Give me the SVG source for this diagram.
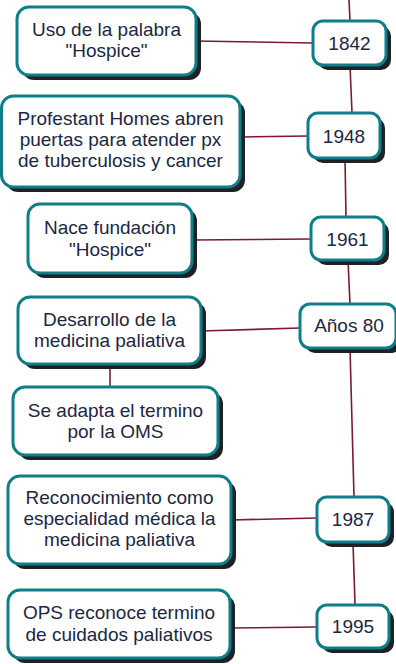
<svg xmlns="http://www.w3.org/2000/svg" width="396" height="664" viewBox="0 0 396 664">
<style>
.sh{fill:#1e2226}
.bx{fill:#ffffff;stroke:#0e7e88;stroke-width:3}
.t{font-family:"Liberation Sans",Arial,sans-serif;font-size:19px;fill:#1c2742;text-anchor:middle}
.c{stroke:#7d1a30;stroke-width:1.6;fill:none}
</style>
<rect width="396" height="664" fill="#ffffff"/>
<g id="connectors">
<line class="c" x1="349" y1="0" x2="350" y2="21"/>
<line class="c" x1="350" y1="65" x2="352" y2="113"/>
<line class="c" x1="196" y1="41" x2="313" y2="43"/>
<line class="c" x1="240" y1="137" x2="308" y2="136"/>
<line class="c" x1="345" y1="158" x2="346" y2="217"/>
<line class="c" x1="192" y1="240" x2="311" y2="239"/>
<line class="c" x1="348" y1="260" x2="350" y2="304"/>
<line class="c" x1="201" y1="331" x2="300" y2="328"/>
<line class="c" x1="110" y1="364" x2="110" y2="387"/>
<line class="c" x1="350" y1="348" x2="354" y2="497"/>
<line class="c" x1="231" y1="520" x2="317" y2="518"/>
<line class="c" x1="353" y1="542" x2="355" y2="605"/>
<line class="c" x1="230" y1="628" x2="317" y2="627"/>
</g>
<g id="n1">
<rect class="sh" x="22" y="12" width="179" height="68" rx="12"/>
<rect class="bx" x="17" y="7" width="179" height="68" rx="12"/>
<text class="t" x="106.5" y="36">Uso de la palabra</text>
<text class="t" x="106.5" y="57">"Hospice"</text>
</g>
<g id="y1842">
<rect class="sh" x="318" y="26" width="73" height="44" rx="10"/>
<rect class="bx" x="313" y="21" width="73" height="44" rx="10"/>
<text class="t" x="349.5" y="50">1842</text>
</g>
<g id="n2">
<rect class="sh" x="6" y="101" width="239" height="91" rx="12"/>
<rect class="bx" x="1.5" y="96" width="238.5" height="91" rx="12"/>
<text class="t" x="120.5" y="125">Profestant Homes abren</text>
<text class="t" x="120.5" y="146">puertas para atender px</text>
<text class="t" x="120.5" y="167">de tuberculosis y cancer</text>
</g>
<g id="y1948">
<rect class="sh" x="313" y="118" width="72" height="45" rx="10"/>
<rect class="bx" x="308" y="113" width="72" height="45" rx="10"/>
<text class="t" x="344" y="143">1948</text>
</g>
<g id="n3">
<rect class="sh" x="33" y="209" width="164" height="69" rx="12"/>
<rect class="bx" x="28" y="204" width="164" height="69" rx="12"/>
<text class="t" x="110" y="234">Nace fundación</text>
<text class="t" x="110" y="256">"Hospice"</text>
</g>
<g id="y1961">
<rect class="sh" x="316" y="222" width="73" height="43" rx="10"/>
<rect class="bx" x="311" y="217" width="73" height="43" rx="10"/>
<text class="t" x="347.5" y="246">1961</text>
</g>
<g id="n4">
<rect class="sh" x="23" y="302" width="183" height="67" rx="12"/>
<rect class="bx" x="18" y="297" width="183" height="67" rx="12"/>
<text class="t" x="109.5" y="326">Desarrollo de la</text>
<text class="t" x="109.5" y="347">medicina paliativa</text>
</g>
<g id="y80">
<rect class="sh" x="305" y="309" width="96" height="44" rx="10"/>
<rect class="bx" x="300" y="304" width="96" height="44" rx="10"/>
<text class="t" x="349" y="332">Años 80</text>
</g>
<g id="n5">
<rect class="sh" x="18" y="392" width="205" height="68" rx="12"/>
<rect class="bx" x="13" y="387" width="205" height="68" rx="12"/>
<text class="t" x="115.5" y="417">Se adapta el termino</text>
<text class="t" x="115.5" y="438">por la OMS</text>
</g>
<g id="n6">
<rect class="sh" x="13" y="481" width="223" height="88" rx="12"/>
<rect class="bx" x="8" y="476" width="223" height="88" rx="12"/>
<text class="t" x="119.5" y="504">Reconocimiento como</text>
<text class="t" x="119.5" y="525">especialidad médica la</text>
<text class="t" x="119.5" y="546">medicina paliativa</text>
</g>
<g id="y1987">
<rect class="sh" x="322" y="502" width="72" height="45" rx="10"/>
<rect class="bx" x="317" y="497" width="72" height="45" rx="10"/>
<text class="t" x="353" y="526">1987</text>
</g>
<g id="n7">
<rect class="sh" x="13" y="595" width="222" height="68" rx="12"/>
<rect class="bx" x="8" y="590" width="222" height="68" rx="12"/>
<text class="t" x="119" y="619">OPS reconoce termino</text>
<text class="t" x="119" y="641">de cuidados paliativos</text>
</g>
<g id="y1995">
<rect class="sh" x="322" y="610" width="72" height="43" rx="10"/>
<rect class="bx" x="317" y="605" width="72" height="43" rx="10"/>
<text class="t" x="353" y="633">1995</text>
</g>
</svg>
